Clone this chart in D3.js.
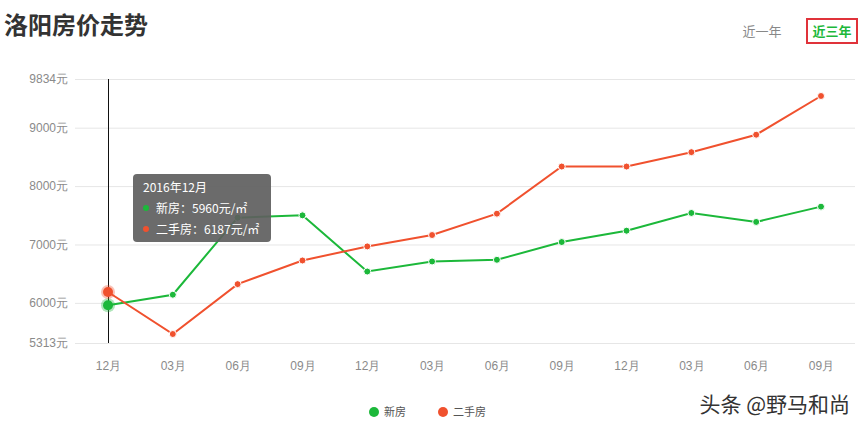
<!DOCTYPE html>
<html><head><meta charset="utf-8">
<script src="https://cdn.jsdelivr.net/npm/d3@7"></script>
<style>
html,body{margin:0;padding:0;background:#fff;}
svg{display:block;font-family:"Noto Sans CJK SC","Noto Sans",sans-serif;}
</style></head>
<body><svg id="c" width="862" height="427"></svg>
<script>
const categories = ["12月","03月","06月","09月","12月","03月","06月","09月","12月","03月","06月","09月"];
const newHouse = [5960,6140,7460,7499,6537,6709,6738,7042,7236,7540,7386,7648];
const secondHand = [6187,5467,6321,6726,6967,7162,7528,8335,8335,8581,8880,9543];
const yTicks = [5313,6000,7000,8000,9000,9834];
const seriesNames = ["新房","二手房"];
const colors = ["#1cb83a","#f0512e"];
const tooltipTitle = "2016年12月";

const svg = d3.select("#c");
const x = d3.scalePoint().domain(d3.range(categories.length)).range([108,821]);
const y = d3.scaleLinear().domain([5313,9834]).range([343,79]);

// title
svg.append("text").attr("x",4).attr("y",34).attr("font-size",24).attr("font-weight","bold").attr("fill","#333").text("洛阳房价走势");
// buttons
svg.append("text").attr("x",762).attr("y",36).attr("text-anchor","middle").attr("font-size",13).attr("fill","#888").text("近一年");
svg.append("rect").attr("x",807).attr("y",19).attr("width",50).attr("height",24).attr("fill","none").attr("stroke","#e0323a").attr("stroke-width",2);
svg.append("text").attr("x",832).attr("y",36).attr("text-anchor","middle").attr("font-size",13).attr("font-weight","bold").attr("fill","#1cb83a").text("近三年");

// grid + y axis
const yAxis = d3.axisLeft(y).tickValues(yTicks).tickSize(-780).tickFormat(d=>d+"元").tickPadding(7);
const gy = svg.append("g").attr("transform","translate(75,0)").call(yAxis);
gy.select(".domain").remove();
gy.selectAll(".tick line").attr("stroke","#e6e6e6");
gy.selectAll(".tick text").attr("fill","#8a8a8a").attr("font-size",12).attr("x",-7);

// x axis
const xAxis = d3.axisBottom(x).tickFormat(i=>categories[i]).tickSize(0).tickPadding(18);
const gx = svg.append("g").attr("transform","translate(0,343)").call(xAxis);
gx.select(".domain").remove();
gx.selectAll(".tick text").attr("fill","#8a8a8a").attr("font-size",12);

// crosshair
svg.append("line").attr("x1",x(0)+0.5).attr("x2",x(0)+0.5).attr("y1",y(9834)).attr("y2",y(5313)).attr("stroke","#111").attr("stroke-width",1);

const series = [newHouse, secondHand];
const line = d3.line().x((d,i)=>x(i)).y(d=>y(d));
series.forEach((s,k)=>{
  svg.append("path").datum(s).attr("d",line).attr("fill","none").attr("stroke",colors[k]).attr("stroke-width",2);
  svg.selectAll(null).data(s.slice(1)).enter().append("circle")
    .attr("cx",(d,i)=>x(i+1)).attr("cy",d=>y(d)).attr("r",3.5)
    .attr("fill",colors[k]).attr("stroke","#fff").attr("stroke-width",1);
});
// highlighted points
series.forEach((s,k)=>{
  svg.append("circle").attr("cx",x(0)).attr("cy",y(s[0])).attr("r",7).attr("fill",colors[k]).attr("opacity",0.35);
  svg.append("circle").attr("cx",x(0)).attr("cy",y(s[0])).attr("r",5).attr("fill",colors[k]);
});

// tooltip
const tt = svg.append("g").attr("transform","translate(133,174)");
tt.append("rect").attr("width",138).attr("height",68).attr("rx",4).attr("fill","#5e5e5e").attr("opacity",0.92);
tt.append("text").attr("x",10).attr("y",18).attr("fill","#fff").attr("font-size",12).text(tooltipTitle);
series.forEach((s,k)=>{
  tt.append("circle").attr("cx",13).attr("cy",34+k*21).attr("r",3).attr("fill",colors[k]);
  tt.append("text").attr("x",23).attr("y",39+k*21).attr("fill","#fff").attr("font-size",12)
    .text(seriesNames[k]+"："+s[0]+"元/㎡");
});

// legend
const lg = svg.append("g");
[[374,384],[443,453]].forEach((p,k)=>{
  lg.append("circle").attr("cx",p[0]).attr("cy",412).attr("r",5).attr("fill",colors[k]);
  lg.append("text").attr("x",p[1]).attr("y",416).attr("font-size",11).attr("fill","#555").text(seriesNames[k]);
});

// watermark
svg.append("text").attr("x",850).attr("y",412).attr("text-anchor","end").attr("font-size",21)
  .attr("fill","#333").attr("stroke","#fff").attr("stroke-width",2).attr("paint-order","stroke").text("头条 @野马和尚");
</script></body></html>
